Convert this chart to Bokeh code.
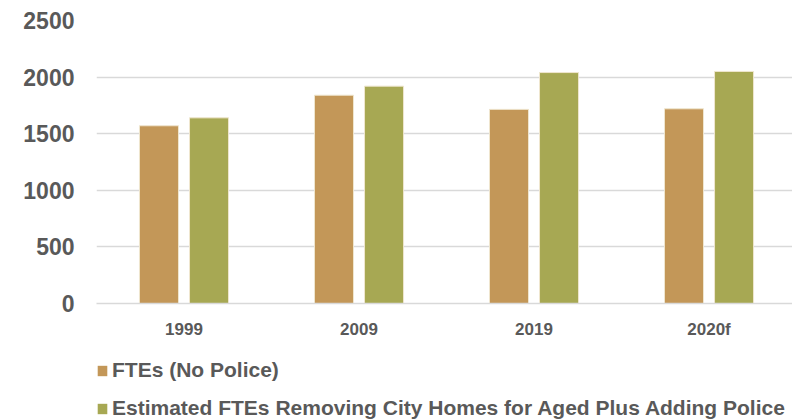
from bokeh.plotting import figure
from bokeh.layouts import column
from bokeh.models import Range1d, FixedTicker, Legend, LegendItem, ColumnDataSource
from bokeh.embed import file_html
from bokeh.resources import INLINE

categories = ["1999", "2009", "2019", "2020f"]
fte_no_police = [1570, 1840, 1715, 1720]
fte_adjusted = [1640, 1920, 2040, 2050]
series_names = ["FTEs (No Police)",
                "Estimated FTEs Removing City Homes for Aged Plus Adding Police"]
y_ticks = [0, 500, 1000, 1500, 2000, 2500]

pos = list(range(1, len(categories) + 1))
offset = 0.143
src = ColumnDataSource(dict(
    x1=[p_ - offset for p_ in pos],
    x2=[p_ + offset for p_ in pos],
    a=fte_no_police,
    b=fte_adjusted,
))

FONT = "Liberation Sans"
GREY = "#595959"
C1, C2, EDGE = "#C39758", "#A7A853", "#EFE6CF"

p = figure(width=792, height=345, output_backend="svg", toolbar_location=None,
           x_range=Range1d(0.5, 4.477), y_range=Range1d(0, 2500),
           min_border_left=96, min_border_top=20, min_border_right=0,
           min_border_bottom=42)
p.outline_line_color = None

r1 = p.vbar(x="x1", top="a", width=0.223, source=src, fill_color=C1,
            line_color=EDGE, line_width=1)
r2 = p.vbar(x="x2", top="b", width=0.223, source=src, fill_color=C2,
            line_color=EDGE, line_width=1)

p.xgrid.grid_line_color = None
p.ygrid.grid_line_color = "#D9D9D9"
p.ygrid.grid_line_width = 1.3
p.yaxis.ticker = FixedTicker(ticks=y_ticks)
p.xaxis.ticker = FixedTicker(ticks=pos)
p.xaxis.major_label_overrides = {k: v for k, v in zip(pos, categories)}

for ax in (p.xaxis[0], p.yaxis[0]):
    ax.major_tick_line_color = None
    ax.minor_tick_line_color = None
    ax.major_label_text_font = FONT
    ax.major_label_text_font_style = "bold"
    ax.major_label_text_color = GREY
p.yaxis.axis_line_color = None
p.xaxis.axis_line_color = "#D9D9D9"
p.xaxis.axis_line_width = 1.3
p.yaxis.major_label_text_font_size = "23px"
p.yaxis.major_label_standoff = 16
p.xaxis.major_label_text_font_size = "17px"
p.xaxis.major_label_standoff = 10

# Legend strip below the chart (its own plot area so nothing is clipped)
p2 = figure(width=792, height=75, output_backend="svg", toolbar_location=None,
            x_range=p.x_range, y_range=p.y_range,
            x_axis_location=None, y_axis_location=None,
            min_border_left=0, min_border_right=0, min_border_top=0,
            min_border_bottom=0)
p2.outline_line_color = None
p2.grid.grid_line_color = None
k1 = p2.vbar(x="x1", top="a", width=0.223, source=src, fill_color=C1,
             line_color=None, visible=False)
k2 = p2.vbar(x="x2", top="b", width=0.223, source=src, fill_color=C2,
             line_color=None, visible=False)

legend = Legend(items=[LegendItem(label=series_names[0], renderers=[k1]),
                       LegendItem(label=series_names[1], renderers=[k2])],
                location=(0, 0), orientation="vertical",
                label_text_font=FONT, label_text_font_style="bold",
                label_text_font_size="21px", label_text_color=GREY,
                glyph_width=12, glyph_height=13, label_standoff=4,
                label_height=24, spacing=14, padding=0, margin=0,
                inactive_fill_alpha=0,
                background_fill_alpha=0, border_line_color=None)
p2.add_layout(legend, "center")

open("out.html", "w").write(file_html(column(p, p2, spacing=0), INLINE))
